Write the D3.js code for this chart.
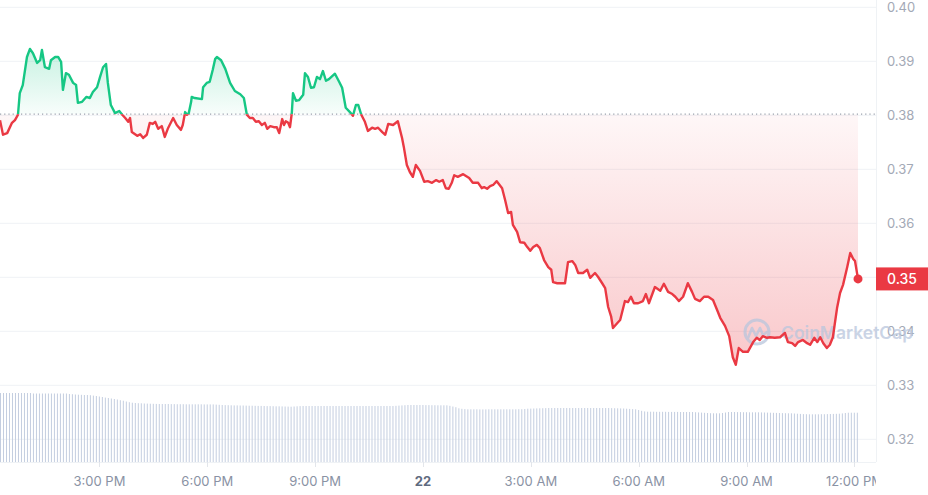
<!DOCTYPE html>
<html><head><meta charset="utf-8">
<script src="https://cdn.jsdelivr.net/npm/d3@7"></script>
<style>
html,body{margin:0;padding:0;background:#fff;}
svg{display:block;font-family:Inter,"Noto Sans",sans-serif;}
</style>
</head><body>
<svg id="chart" width="928" height="495"></svg>
<script>
// ---- DATA ----
// minutes after 12:00 PM on the 21st
const minutes = [14,19,26,34,39,44,47,52,59,64,
69,76,81,84,89,96,99,106,111,116,
119,124,129,136,141,144,151,158,164,169,
176,181,186,191,194,199,206,213,218,223,
228,231,234,243,248,253,259,264,269,273,
278,284,289,294,303,309,316,319,323,326,
329,333,334,339,351,353,359,364,369,373,
376,383,390,398,406,415,421,426,431,436,
441,446,451,456,460,465,471,476,480,485,
488,491,495,498,501,503,508,513,520,523,
528,533,538,543,548,553,558,563,573,580,
585,591,598,603,608,612,617,623,628,635,
640,645,652,657,662,670,678,685,688,693,
698,703,708,715,722,728,735,742,747,753,
758,763,768,772,778,787,797,803,812,818,
822,827,832,837,843,852,857,862,867,870,
877,882,889,894,899,904,910,915,922,929,
934,937,944,957,962,969,974,979,987,994,
999,1007,1012,1019,1024,1029,1034,1037,1044,1049,
1057,1062,1067,1072,1079,1087,1092,1097,1107,1116,
1122,1129,1136,1141,1147,1154,1162,1169,1174,1182,
1189,1196,1204,1211,1216,1224,1231,1237,1242,1247,
1254,1262,1271,1277,1282,1287,1294,1299,1307,1316,
1324,1329,1336,1341,1346,1354,1361,1366,1373,1378,
1383,1388,1394,1399,1404,1411,1416,1421,1428,1433,
1438,1441,1444,1446];

const prices = [0.3791,0.3764,0.3767,0.3786,0.3791,0.3801,0.3841,0.3856,0.3908,0.3923,
0.3915,0.3897,0.3902,0.3921,0.3889,0.3886,0.3902,0.3908,0.3908,0.3899,
0.3847,0.3878,0.3875,0.3860,0.3856,0.3823,0.3825,0.3834,0.3832,0.3843,
0.3852,0.3871,0.3889,0.3895,0.3860,0.3819,0.3804,0.3808,0.3801,0.3795,
0.3788,0.3795,0.3769,0.3762,0.3765,0.3758,0.3764,0.3786,0.3784,0.3788,
0.3775,0.3780,0.3760,0.3775,0.3795,0.3782,0.3773,0.3782,0.3806,0.3801,
0.3804,0.3825,0.3834,0.3832,0.3830,0.3852,0.3860,0.3862,0.3884,0.3904,
0.3908,0.3902,0.3886,0.3860,0.3845,0.3839,0.3832,0.3801,0.3795,0.3795,
0.3788,0.3789,0.3782,0.3786,0.3775,0.3780,0.3778,0.3778,0.3767,0.3793,
0.3782,0.3789,0.3786,0.3778,0.3804,0.3841,0.3827,0.3828,0.3838,0.3878,
0.3871,0.3851,0.3852,0.3871,0.3867,0.3882,0.3864,0.3867,0.3877,0.3862,
0.3851,0.3814,0.3806,0.3799,0.3819,0.3819,0.3801,0.3788,0.3771,0.3777,
0.3775,0.3777,0.3769,0.3764,0.3784,0.3782,0.3789,0.3758,0.3741,0.3708,
0.3695,0.3686,0.3708,0.3697,0.3677,0.3678,0.3675,0.3680,0.3677,0.3680,
0.3665,0.3664,0.3675,0.3689,0.3686,0.3691,0.3684,0.3675,0.3675,0.3665,
0.3667,0.3664,0.3669,0.3671,0.3678,0.3665,0.3643,0.3619,0.3621,0.3597,
0.3584,0.3565,0.3564,0.3556,0.3549,0.3556,0.3560,0.3554,0.3532,0.3519,
0.3514,0.3491,0.3489,0.3489,0.3528,0.3530,0.3523,0.3508,0.3508,0.3514,
0.3499,0.3508,0.3501,0.3489,0.3480,0.3445,0.3427,0.3406,0.3415,0.3421,
0.3456,0.3454,0.3464,0.3452,0.3452,0.3456,0.3469,0.3452,0.3482,0.3475,
0.3488,0.3473,0.3469,0.3464,0.3456,0.3464,0.3489,0.3473,0.3460,0.3456,
0.3464,0.3464,0.3458,0.3439,0.3425,0.3410,0.3391,0.3352,0.3338,0.3369,
0.3362,0.3362,0.3380,0.3388,0.3384,0.3391,0.3388,0.3389,0.3388,0.3389,
0.3397,0.3380,0.3378,0.3373,0.3380,0.3384,0.3378,0.3375,0.3388,0.3380,
0.3389,0.3378,0.3369,0.3375,0.3389,0.3443,0.3471,0.3486,0.3519,0.3545,
0.3534,0.3530,0.3510,0.3497];

const baselinePrice = 0.3802;

// 24h rolling volume (millions), one bar every 5 minutes from minute 14
const volumeStartMinute = 14;
const volumeStepMinutes = 5;
const volumes = [6.90,6.90,6.90,6.90,6.90,6.90,6.90,6.90,6.90,6.90,6.90,
6.85,6.85,6.85,6.85,6.85,6.85,6.85,6.85,6.85,6.85,6.85,6.85,
6.80,6.78,6.75,6.73,6.72,6.70,6.70,6.68,6.64,6.60,
6.55,6.50,6.44,6.40,6.35,6.30,6.25,6.18,6.13,6.05,5.98,5.93,
5.90,5.88,5.87,5.85,5.84,5.83,5.82,5.81,5.80,5.80,5.80,
5.80,5.79,5.79,5.78,5.78,5.78,5.77,5.77,5.77,5.77,5.77,5.77,5.76,5.76,5.76,5.76,
5.74,5.72,5.70,5.69,5.68,5.67,
5.66,5.66,5.65,5.65,5.64,5.63,5.63,5.62,5.61,5.61,5.60,5.59,5.59,5.58,5.57,5.57,5.56,5.55,5.54,5.53,
5.55,5.57,5.59,5.60,
5.60,5.60,5.60,5.60,5.60,5.60,5.60,5.60,5.60,5.60,
5.60,5.60,5.60,5.60,5.60,5.60,5.60,5.60,5.60,5.60,
5.60,5.60,5.60,5.60,5.60,5.60,5.60,5.60,5.60,5.60,
5.62,5.64,5.66,5.68,
5.70,5.70,5.70,5.70,5.70,5.70,5.69,5.69,5.68,5.68,5.67,5.67,5.67,
5.67,5.62,5.55,5.48,
5.37,5.32,5.29,5.27,5.27,5.27,
5.27,5.26,5.26,5.26,5.27,5.27,5.27,5.27,5.27,5.27,5.27,5.27,5.27,5.27,5.28,5.28,
5.30,5.33,
5.34,5.35,5.36,5.37,5.38,5.39,5.40,
5.40,5.40,5.40,5.40,5.40,5.40,5.40,5.40,5.40,5.40,
5.40,5.40,5.40,5.40,5.40,5.40,5.40,5.40,5.40,5.40,
5.39,5.38,5.37,5.36,5.35,5.33,5.31,5.29,5.27,
5.20,5.12,5.06,5.03,
5.03,5.03,5.02,5.02,5.02,5.02,5.01,5.01,5.01,5.01,5.00,5.00,5.00,5.00,5.00,
4.98,4.96,4.94,4.92,4.90,4.88,4.87,4.87,4.87,
4.90,4.95,5.00,5.00,5.00,
4.99,4.99,4.98,4.98,4.97,4.97,4.97,4.97,
4.96,4.95,4.94,4.93,4.92,4.91,4.90,4.89,4.88,4.87,4.87,
4.85,4.83,4.81,4.79,4.78,4.77,4.77,4.77,
4.77,4.78,4.78,4.79,4.80,4.81,4.82,4.83,
4.86,4.90,4.93,4.93,4.93,4.93];

const priceTicks = [0.32,0.33,0.34,0.35,0.36,0.37,0.38,0.39,0.40];
const domainMinutes = [14, 1476];

// ---- CHART ----
const noon21 = new Date(2024, 2, 21, 12, 0, 0);
const toDate = m => new Date(noon21.getTime() + m * 60000);
const series = minutes.map((m, i) => ({ t: toDate(m), p: prices[i] }));

const W = 928, H = 495;
const plotRight = 876, plotBottom = 462;

const svg = d3.select('#chart');
const x = d3.scaleTime().domain(domainMinutes.map(toDate)).range([0, plotRight]);
const y = d3.scaleLinear().domain([0.32, 0.40]).range([439.3, 7.3]);
const yv = d3.scaleLinear().domain([0, d3.max(volumes)]).range([plotBottom, 393]);
const yBase = y(baselinePrice);

const defs = svg.append('defs');
defs.append('clipPath').attr('id', 'clipAbove').append('rect')
  .attr('x', 0).attr('y', 0).attr('width', plotRight).attr('height', yBase);
defs.append('clipPath').attr('id', 'clipBelow').append('rect')
  .attr('x', 0).attr('y', yBase).attr('width', plotRight).attr('height', plotBottom - yBase);
defs.append('clipPath').attr('id', 'clipPlotX').append('rect')
  .attr('x', 0).attr('y', 0).attr('width', plotRight).attr('height', H);

const gG = defs.append('linearGradient').attr('id', 'gradGreen')
  .attr('gradientUnits', 'userSpaceOnUse').attr('x1', 0).attr('x2', 0)
  .attr('y1', y(d3.max(prices))).attr('y2', yBase);
gG.append('stop').attr('offset', 0).attr('stop-color', '#16c784').attr('stop-opacity', 0.24);
gG.append('stop').attr('offset', 1).attr('stop-color', '#16c784').attr('stop-opacity', 0.03);
const gR = defs.append('linearGradient').attr('id', 'gradRed')
  .attr('gradientUnits', 'userSpaceOnUse').attr('x1', 0).attr('x2', 0)
  .attr('y1', yBase).attr('y2', y(d3.min(prices)));
gR.append('stop').attr('offset', 0).attr('stop-color', '#ea3943').attr('stop-opacity', 0.04);
gR.append('stop').attr('offset', 1).attr('stop-color', '#ea3943').attr('stop-opacity', 0.28);

// gridlines
svg.append('g').selectAll('line').data(priceTicks).join('line')
  .attr('x1', 0).attr('x2', plotRight)
  .attr('y1', d => y(d)).attr('y2', d => y(d))
  .attr('stroke', '#eff2f5').attr('stroke-width', 1);
svg.append('line').attr('x1', plotRight + 0.5).attr('x2', plotRight + 0.5)
  .attr('y1', 0).attr('y2', plotBottom).attr('stroke', '#eff2f5');
svg.append('line').attr('x1', 0).attr('x2', plotRight)
  .attr('y1', plotBottom + 0.5).attr('y2', plotBottom + 0.5).attr('stroke', '#eff2f5');

// y labels
svg.append('g').selectAll('text').data(priceTicks).join('text')
  .attr('x', 887).attr('y', d => y(d)).attr('dy', '0.35em')
  .attr('font-size', 13).attr('fill', '#a3a9b6')
  .text(d => d3.format('.2f')(d));

// x axis
const xTicks = x.ticks(d3.timeHour.every(3));
const xg = svg.append('g').attr('clip-path', 'url(#clipPlotX)');
xg.selectAll('line').data(xTicks).join('line')
  .attr('x1', d => Math.round(x(d)) + 0.5).attr('x2', d => Math.round(x(d)) + 0.5)
  .attr('y1', plotBottom).attr('y2', plotBottom + 5)
  .attr('stroke', '#e3e6eb');
xg.selectAll('text').data(xTicks).join('text')
  .attr('x', d => x(d)).attr('y', 481).attr('dy', '0.35em')
  .attr('text-anchor', 'middle').attr('font-size', 13)
  .attr('font-weight', d => d.getHours() === 0 ? 700 : 400)
  .attr('fill', d => d.getHours() === 0 ? '#5f6b80' : '#8a92a4')
  .text(d => d.getHours() === 0 ? d3.timeFormat('%-d')(d) : d3.timeFormat('%-I:%M %p')(d));

// volume bars
svg.append('g').selectAll('rect').data(volumes).join('rect')
  .attr('x', (d, i) => x(toDate(volumeStartMinute + i * volumeStepMinutes)))
  .attr('y', d => yv(d))
  .attr('width', 1)
  .attr('height', d => plotBottom - yv(d))
  .attr('fill', '#c4cee0');

// areas
const area = d3.area().x(d => x(d.t)).y0(yBase).y1(d => y(d.p));
svg.append('path').datum(series).attr('d', area)
  .attr('fill', 'url(#gradGreen)').attr('clip-path', 'url(#clipAbove)');
svg.append('path').datum(series).attr('d', area)
  .attr('fill', 'url(#gradRed)').attr('clip-path', 'url(#clipBelow)');

// watermark
const wm = svg.append('g').attr('opacity', 0.75);
wm.append('circle').attr('cx', 757).attr('cy', 332).attr('r', 12)
  .attr('fill', 'none').attr('stroke', '#b9c6dd').attr('stroke-width', 3);
wm.append('path').attr('d', 'M748,338 L752,328 L756,336 L760,328 L763,335 L767,332')
  .attr('fill', 'none').attr('stroke', '#b9c6dd').attr('stroke-width', 2.6)
  .attr('stroke-linejoin', 'round').attr('stroke-linecap', 'round');
wm.append('text').attr('x', 781).attr('y', 339).attr('font-size', 17.5)
  .attr('font-weight', 600).attr('fill', '#b9c6dd').text('CoinMarketCap');

// baseline
svg.append('line').attr('x1', 0).attr('x2', plotRight)
  .attr('y1', yBase).attr('y2', yBase)
  .attr('stroke', '#9aa1ad').attr('stroke-width', 1.2).attr('stroke-dasharray', '1.2,3');

// lines
const line = d3.line().x(d => x(d.t)).y(d => y(d.p));
svg.append('path').datum(series).attr('d', line)
  .attr('fill', 'none').attr('stroke', '#16c784').attr('stroke-width', 2.4)
  .attr('stroke-linejoin', 'round').attr('clip-path', 'url(#clipAbove)');
svg.append('path').datum(series).attr('d', line)
  .attr('fill', 'none').attr('stroke', '#ea3943').attr('stroke-width', 2.4)
  .attr('stroke-linejoin', 'round').attr('clip-path', 'url(#clipBelow)');

// last point
const last = series[series.length - 1];
svg.append('circle').attr('cx', x(last.t)).attr('cy', y(last.p)).attr('r', 4.5)
  .attr('fill', '#ea3943');

// price tag
svg.append('rect').attr('x', plotRight).attr('y', y(last.p) - 11.5)
  .attr('width', W - plotRight).attr('height', 23).attr('fill', '#ea3943');
svg.append('text').attr('x', 902).attr('y', y(last.p)).attr('dy', '0.35em')
  .attr('text-anchor', 'middle').attr('font-size', 14).attr('font-weight', 500)
  .attr('fill', '#ffffff').text(d3.format('.2f')(last.p));
</script>
</body></html>
